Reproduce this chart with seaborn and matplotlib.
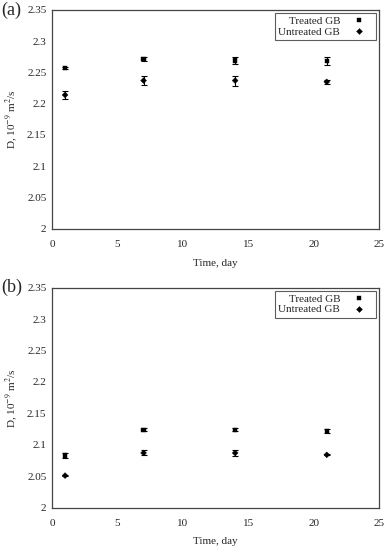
import pandas as pd
import seaborn as sns
import matplotlib.pyplot as plt

# diffusion coefficient vs time, two panels
days = [1, 7, 14, 21]
groups = ['Treated GB', 'Untreated GB']

a_treated = [2.257, 2.272, 2.269, 2.268]
a_treated_err = [0.002, 0.003, 0.005, 0.006]
a_untreated = [2.214, 2.237, 2.237, 2.235]
a_untreated_err = [0.007, 0.007, 0.008, 0.003]

b_treated = [2.083, 2.124, 2.124, 2.122]
b_treated_err = [0.004, 0.002, 0.002, 0.003]
b_untreated = [2.051, 2.087, 2.087, 2.084]
b_untreated_err = [0.001, 0.004, 0.005, 0.001]

x_ticks = [0, 5, 10, 15, 20, 25]
y_ticks = [2, 2.05, 2.1, 2.15, 2.2, 2.25, 2.3, 2.35]
y_ticklabels = ['2', '2.05', '2.1', '2.15', '2.2', '2.25', '2.3', '2.35']


def make_frame(treated, treated_err, untreated, untreated_err):
    df = pd.DataFrame({
        'day': days + days,
        'D': treated + untreated,
        'err': treated_err + untreated_err,
        'group': [groups[0]] * len(days) + [groups[1]] * len(days),
    })
    return df


sns.set_style('white')
plt.rcParams['font.family'] = ['Liberation Serif', 'DejaVu Serif']
plt.rcParams['mathtext.fontset'] = 'stix'

fig = plt.figure(figsize=(3.88, 5.5), dpi=100)
ax_a = fig.add_axes([0.134, 0.584, 0.843, 0.398])
ax_b = fig.add_axes([0.134, 0.077, 0.843, 0.400])

panels = [
    (ax_a, '(a)', make_frame(a_treated, a_treated_err, a_untreated, a_untreated_err)),
    (ax_b, '(b)', make_frame(b_treated, b_treated_err, b_untreated, b_untreated_err)),
]

for ax, tag, df in panels:
    for g in groups:
        sub = df[df['group'] == g]
        ax.errorbar(sub['day'], sub['D'], yerr=sub['err'], fmt='none',
                    ecolor='black', elinewidth=0.8, capsize=2, capthick=0.8)
    sns.scatterplot(data=df, x='day', y='D', hue='group', style='group',
                    markers={'Treated GB': 's', 'Untreated GB': 'D'},
                    palette={'Treated GB': 'black', 'Untreated GB': 'black'},
                    s=9, edgecolor='black', linewidth=0.3, ax=ax, zorder=3)

    ax.set_xlim(0, 25)
    ax.set_ylim(2, 2.35)
    ax.set_xticks(x_ticks)
    ax.set_yticks(y_ticks)
    ax.set_yticklabels(y_ticklabels)
    ax.tick_params(direction='in', length=4, width=0.8, labelsize=8,
                   color='#333333')
    ax.tick_params(axis='x', pad=8)
    ax.tick_params(axis='y', pad=4)
    ax.set_xlabel('Time, day', fontsize=8, labelpad=7)
    ax.set_ylabel('D, 10$^{-9}$ m$^2$/s', fontsize=8, labelpad=5)
    for sp in ax.spines.values():
        sp.set_color('#444444')
        sp.set_linewidth(0.9)

    leg = ax.legend(loc='upper right', markerfirst=False, fontsize=8,
                    frameon=True, fancybox=False, borderaxespad=0.3,
                    handletextpad=0.5, labelspacing=0.05, borderpad=0.3,
                    handlelength=2.4)
    leg.get_frame().set_edgecolor('#333333')
    leg.get_frame().set_linewidth(0.8)
    for t in leg.get_texts():
        t.set_ha('right')

    ax.text(-0.155, 1.0, tag, transform=ax.transAxes, fontsize=13,
            ha='left', va='center')

fig.savefig('out.png', dpi=100)
